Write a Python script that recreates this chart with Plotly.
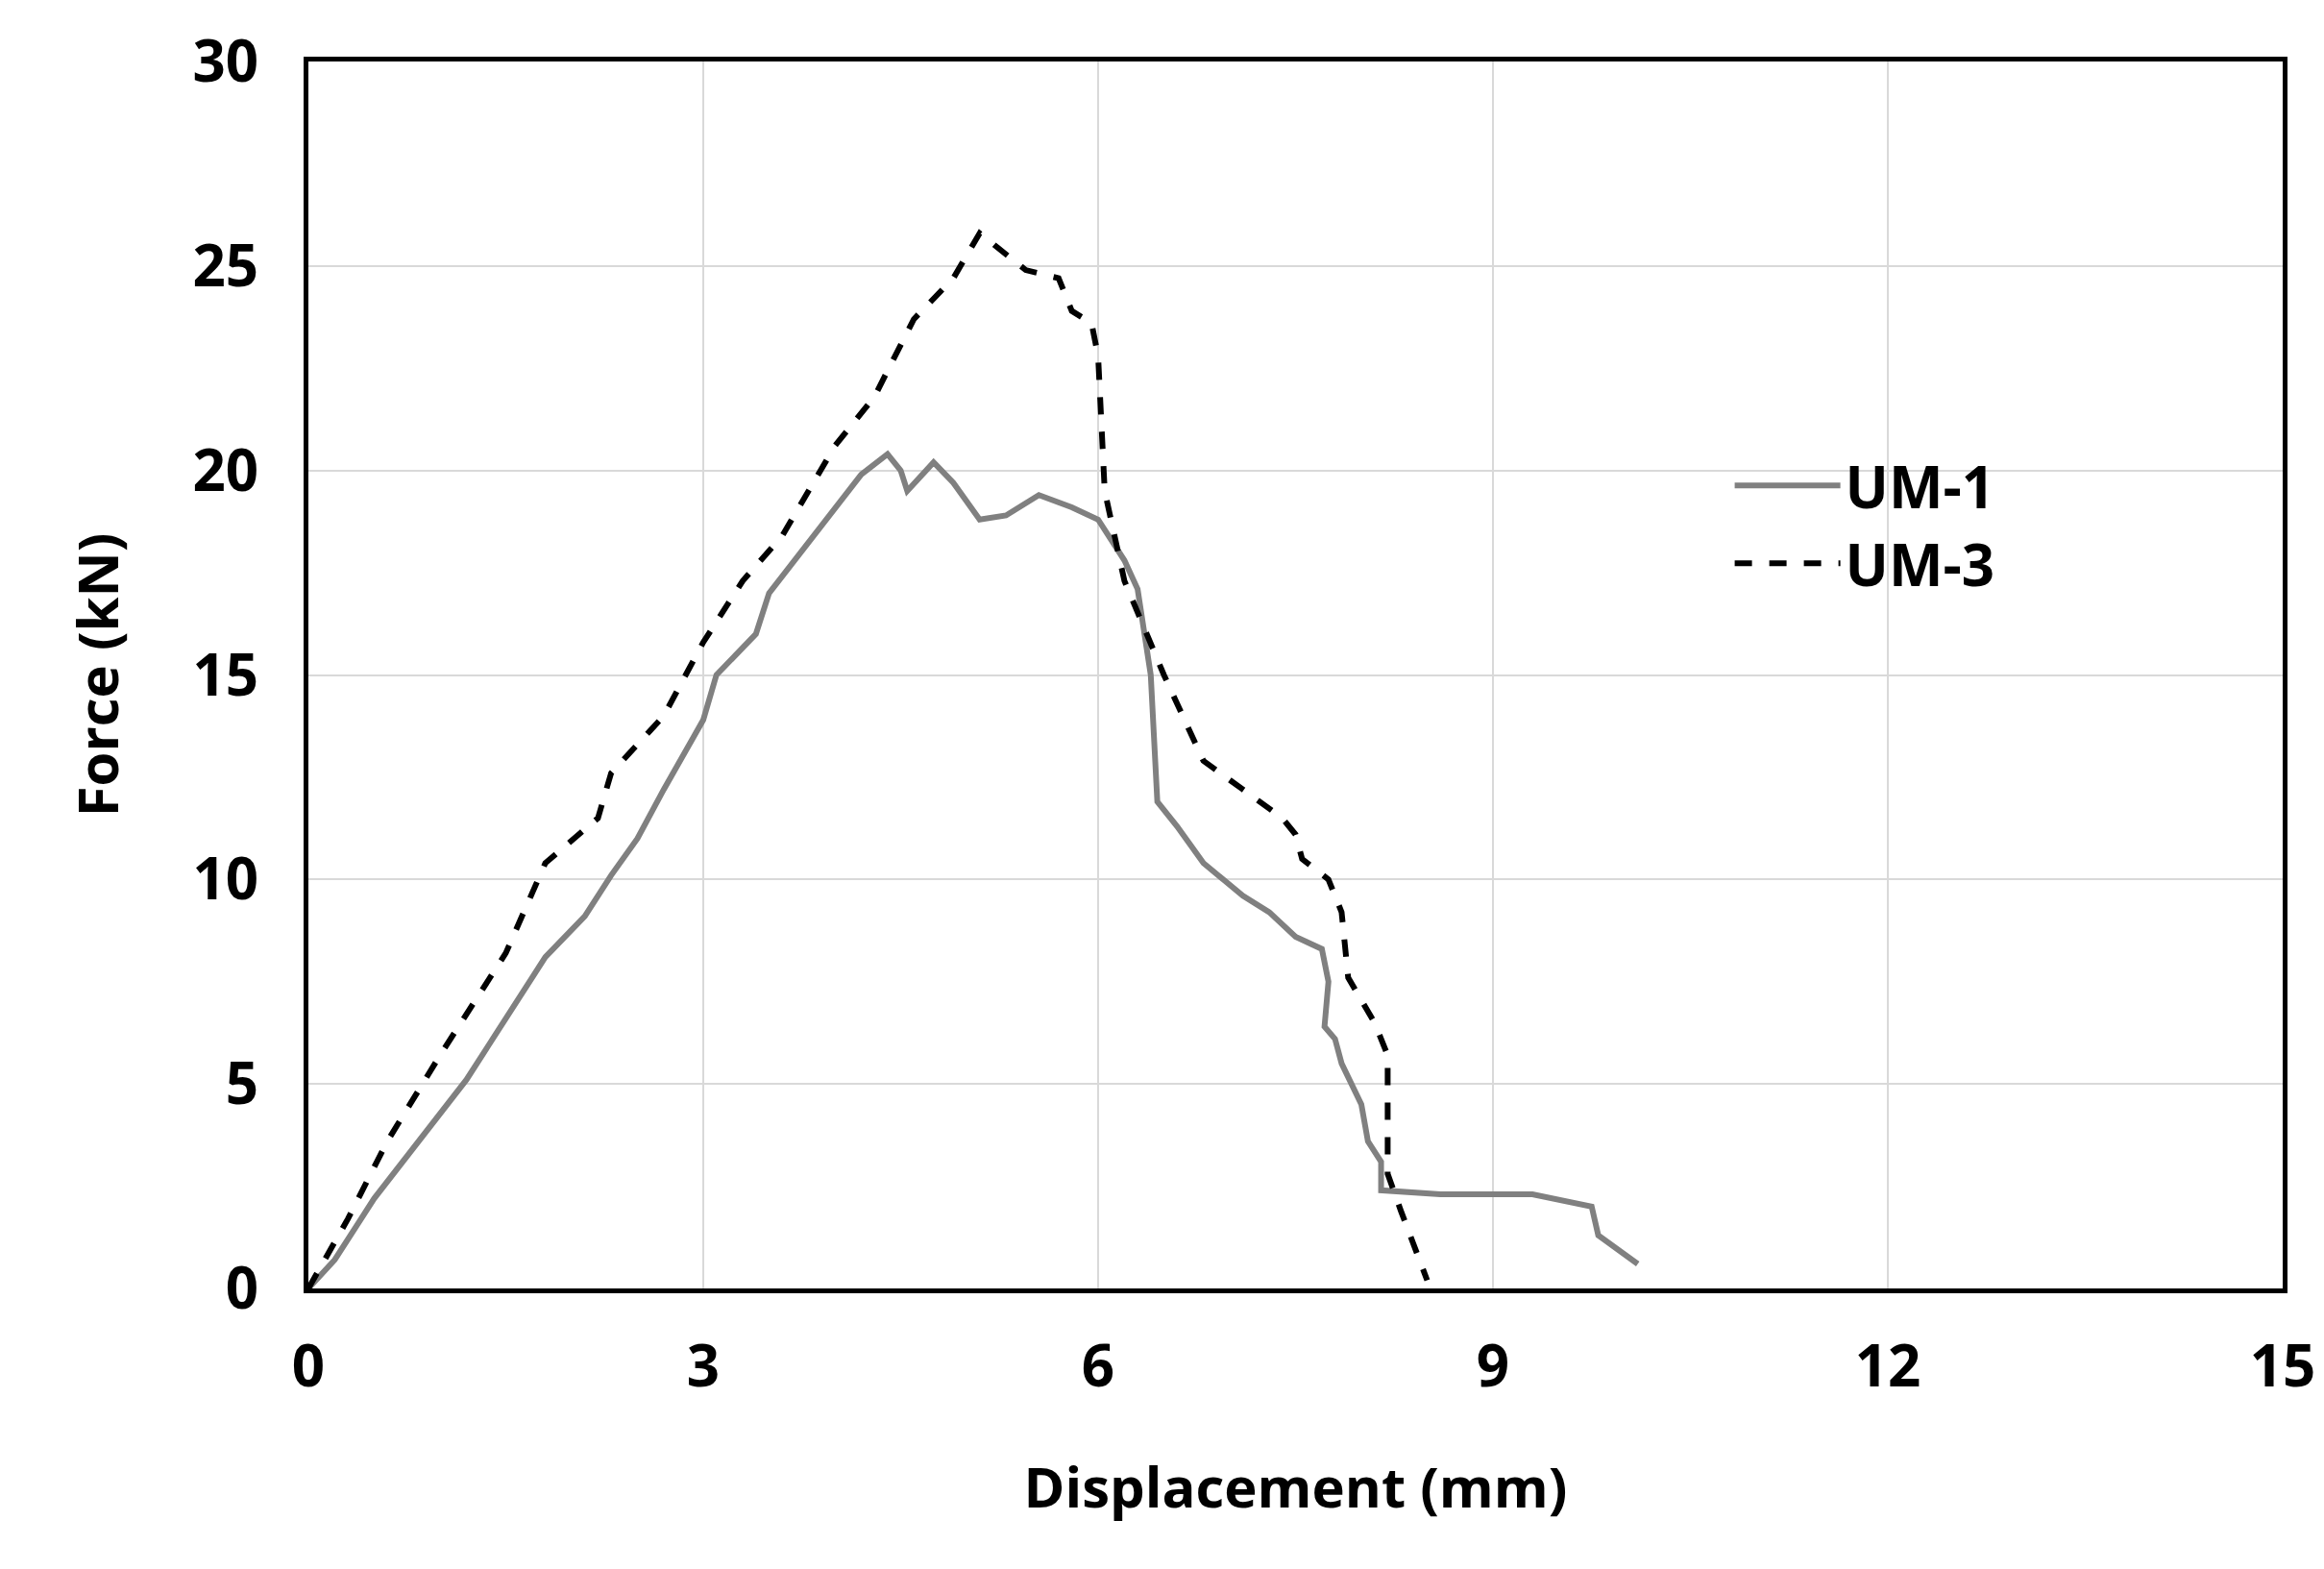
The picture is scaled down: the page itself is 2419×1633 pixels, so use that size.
import plotly.graph_objects as go

um1_x = [0,0.2,0.5,1.2,1.8,2.1,2.3,2.5,2.7,3.0,3.1,3.4,3.5,4.2,4.4,4.5,4.55,4.75,4.9,5.1,5.3,5.55,5.8,6.0,6.2,6.3,6.4,6.43,6.45,6.6,6.8,7.1,7.3,7.5,7.7,7.75,7.72,7.8,7.85,8.0,8.05,8.15,8.15,8.6,9.3,9.75,9.8,10.1]
um1_y = [0,0.7,2.2,5.1,8.1,9.1,10.1,11.0,12.2,13.9,15.0,16.0,17.0,19.9,20.4,20.0,19.5,20.2,19.7,18.8,18.9,19.4,19.1,18.8,17.8,17.1,15.0,13.0,11.9,11.3,10.4,9.6,9.2,8.6,8.3,7.5,6.4,6.1,5.5,4.5,3.6,3.1,2.4,2.3,2.3,2.0,1.3,0.6]
um3_x = [0,0.3,0.6,1.0,1.5,1.8,2.2,2.3,2.7,3.0,3.3,3.6,4.0,4.3,4.6,4.9,5.1,5.3,5.45,5.7,5.8,5.95,6.0,6.05,6.2,6.5,6.8,7.1,7.4,7.5,7.55,7.75,7.85,7.9,8.1,8.2,8.2,8.3,8.5]
um3_y = [0,1.7,3.6,5.7,8.2,10.4,11.5,12.6,14.0,15.8,17.3,18.4,20.6,21.8,23.7,24.7,25.8,25.3,24.9,24.7,23.9,23.6,22.8,19.5,17.3,15.0,12.9,12.2,11.5,11.1,10.5,10.0,9.2,7.6,6.5,5.7,2.8,1.9,0.2]
x_ticks = [0,3,6,9,12,15]
y_ticks = [0,5,10,15,20,25,30]

fig = go.Figure()
fig.add_trace(go.Scatter(x=um1_x, y=um1_y, mode="lines", name="UM-1",
                         line=dict(color="#808080", width=6)))
fig.add_trace(go.Scatter(x=um3_x, y=um3_y, mode="lines", name="UM-3",
                         line=dict(color="black", width=6, dash="dash")))
bf = lambda s: dict(family="Open Sans", size=s, color="black", weight="bold")
fig.update_layout(
    width=2419, height=1633, plot_bgcolor="white", paper_bgcolor="white",
    margin=dict(l=313, r=51, t=56, b=300),
    legend=dict(x=0.72, y=0.69, xanchor="left", yanchor="top", bgcolor="rgba(0,0,0,0)",
                font=bf(60), itemwidth=110, tracegroupgap=30),
    xaxis=dict(range=[0,15], tickvals=x_ticks, showgrid=True, gridcolor="#d9d9d9", gridwidth=2,
               showline=True, linecolor="black", linewidth=5, mirror=True, zeroline=False,
               ticks="", ticklabelstandoff=25, tickfont=bf(60),
               title=dict(text="Displacement (mm)", standoff=70, font=bf(58))),
    yaxis=dict(range=[0,30], tickvals=y_ticks, showgrid=True, gridcolor="#d9d9d9", gridwidth=2,
               showline=True, linecolor="black", linewidth=5, mirror=True, zeroline=False,
               ticks="", ticklabelstandoff=35, tickfont=bf(60),
               title=dict(text="Force (kN)", standoff=60, font=bf(58))),
)
fig.write_html("out.html")
